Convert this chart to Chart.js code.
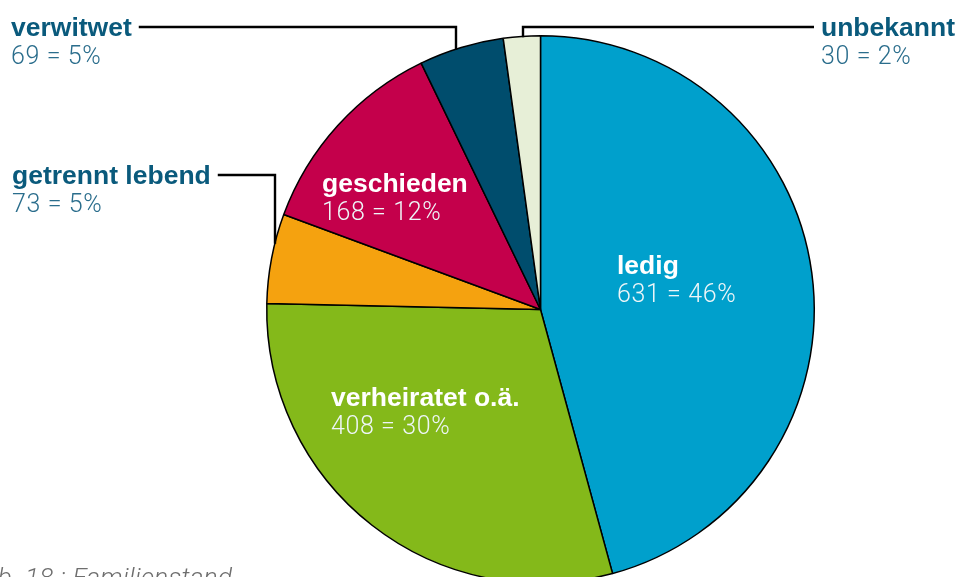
<!DOCTYPE html>
<html>
<head>
<meta charset="utf-8">
<script src="https://cdn.jsdelivr.net/npm/chart.js@4"></script>
<style>
  html, body { margin: 0; padding: 0; background: #fff; overflow: hidden; }
  #wrap { width: 960px; height: 577px; overflow: hidden; }
</style>
</head>
<body>
<div id="wrap"><canvas id="chart" width="960" height="620"></canvas></div>
<script>
// Familienstand
const categories = ["ledig", "verheiratet o.ä.", "getrennt lebend", "geschieden", "verwitwet", "unbekannt"];
const counts = [631, 408, 73, 168, 69, 30];
const percents = [46, 30, 5, 12, 5, 2];
const colors = ["#00a0cc", "#84b91a", "#f5a20f", "#c4004b", "#004d6d", "#e7efd7"];
const caption = "Abb. 18 : Familienstand";

// where each label goes (page px); inside = white text on slice, outside = with leader line
const labelPos = [
  { x: 617, y: 274, inside: true },
  { x: 331, y: 406, inside: true },
  { x: 12, y: 184, inside: false, lineY: 175, lineX: 275 },
  { x: 322, y: 192, inside: true },
  { x: 11, y: 36, inside: false, lineY: 27, lineX: 456 },
  { x: 821, y: 36, inside: false, lineY: 27, lineX: 523, right: true }
];

const nameFont = "bold 26.5px 'Liberation Sans', Arial, sans-serif";
const valueFont = "300 25px Roboto, 'Liberation Sans', sans-serif";

const labelPlugin = {
  id: "labels",
  afterDraw(chart) {
    const ctx = chart.ctx;
    const arcs = chart.getDatasetMeta(0).data;
    ctx.save();
    categories.forEach((name, i) => {
      const p = labelPos[i];
      const arc = arcs[i];
      const txt = counts[i] + " = " + percents[i] + "%";
      ctx.textBaseline = "alphabetic";
      ctx.textAlign = "left";
      ctx.letterSpacing = "0px";
      ctx.font = nameFont;
      const nameW = ctx.measureText(name).width;
      const fg = p.inside ? "#ffffff" : "#0a5a7c";
      ctx.fillStyle = fg;
      ctx.fillText(name, p.x, p.y);
      ctx.font = valueFont;
      ctx.letterSpacing = "0.6px";
      ctx.fillStyle = p.inside ? "#eef6f8" : "#2a6d8c";
      ctx.fillText(txt, p.x, p.y + 28);
      if (!p.inside) {
        // leader line down to the pie edge
        const dx = p.lineX - arc.x;
        const edgeY = arc.y - Math.sqrt(arc.outerRadius * arc.outerRadius - dx * dx);
        const startX = p.right ? p.x - 7 : p.x + nameW + 7;
        ctx.strokeStyle = "#000";
        ctx.lineWidth = 2.4;
        ctx.beginPath();
        ctx.moveTo(startX, p.lineY);
        ctx.lineTo(p.lineX, p.lineY);
        ctx.lineTo(p.lineX, edgeY + 1);
        ctx.stroke();
      }
    });
    // caption, partly cut off on the left like the original
    ctx.letterSpacing = "0.3px";
    ctx.font = "italic 300 26px Roboto, 'Liberation Sans', sans-serif";
    ctx.fillStyle = "#6e6e6e";
    const pre = ctx.measureText("Abb. ").width;
    ctx.fillText(caption, 25 - pre, 586);
    ctx.restore();
  }
};

new Chart(document.getElementById("chart"), {
  type: "pie",
  data: {
    labels: categories,
    datasets: [{
      data: counts,
      backgroundColor: colors,
      borderColor: "#000",
      borderWidth: 1.5
    }]
  },
  options: {
    responsive: false,
    animation: false,
    layout: { padding: { left: 265, right: 144, top: 35, bottom: 36 } },
    plugins: { legend: { display: false }, tooltip: { enabled: false } }
  },
  plugins: [labelPlugin]
});
</script>
</body>
</html>
